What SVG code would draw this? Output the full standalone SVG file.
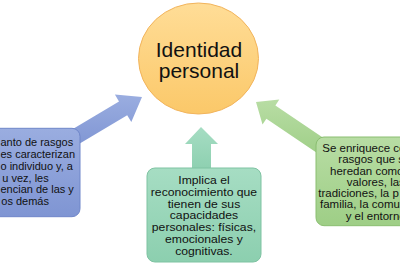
<svg xmlns="http://www.w3.org/2000/svg" width="400" height="267" viewBox="0 0 400 267">
<defs>
<linearGradient id="gOrange" x1="0" y1="0" x2="0" y2="1"><stop offset="0" stop-color="#FFDD97"/><stop offset="1" stop-color="#FBC869"/></linearGradient>
<linearGradient id="gBlue" x1="0" y1="0" x2="0" y2="1"><stop offset="0" stop-color="#9AADE0"/><stop offset="1" stop-color="#7F95D3"/></linearGradient>
<linearGradient id="gMint" x1="0" y1="0" x2="0" y2="1"><stop offset="0" stop-color="#A6DDC3"/><stop offset="1" stop-color="#8CCFAF"/></linearGradient>
<linearGradient id="gGreen" x1="0" y1="0" x2="0" y2="1"><stop offset="0" stop-color="#B8DDA4"/><stop offset="1" stop-color="#9ECE86"/></linearGradient>
</defs>
<style>
.t{font-family:"Liberation Sans",Arial,sans-serif;font-size:10px;fill:#111}
.c{text-anchor:middle}
.big{font-family:"Liberation Sans",Arial,sans-serif;font-size:21px;fill:#111;text-anchor:middle}
</style>
<g id="connectors">
<polygon points="142,97 131.3,122 127.2,115.2 71.4,148.5 63.2,134.7 119,101.4 114.9,94.6" fill="url(#gBlue)"/>
<polygon points="201,127 218,144 211,144 211,172 192,172 192,144 185,144" fill="url(#gMint)"/>
<polygon points="256,102 279.3,99.6 275.4,105.5 333.5,144.7 324.5,158 266.4,118.7 262.5,124.6" fill="url(#gGreen)"/>
</g>
<g id="center">
<ellipse cx="198.5" cy="58.5" rx="60" ry="55.5" fill="url(#gOrange)" stroke="#F2B45C" stroke-width="1"/>
<text class="big" x="199" y="57">Identidad</text>
<text class="big" x="199" y="78">personal</text>
</g>
<g id="left">
<rect x="-40" y="128.3" width="120" height="88.4" rx="8" fill="url(#gBlue)" stroke="#6F86C9" stroke-width="1"/>
<g transform="scale(1.1,1)">
<text class="t" x="0.45" y="146.5">anto de rasgos</text>
<text class="t" x="0.45" y="158.2">es caracterizan</text>
<text class="t" x="0.45" y="169.9">o individuo y, a</text>
<text class="t" x="2.1" y="181.6">u vez, les</text>
<text class="t" x="0.45" y="193.3">encian de las y</text>
<text class="t" x="1.2" y="205">os demás</text>
</g>
</g>
<g id="middle">
<rect x="147" y="168" width="114" height="94" rx="8" fill="url(#gMint)" stroke="#7EC3A2" stroke-width="1"/>
<g transform="scale(1.22,1)">
<text class="t c" x="167.2" y="184">Implica el</text>
<text class="t c" x="167.2" y="195.8">reconocimiento que</text>
<text class="t c" x="167.2" y="207.6">tienen de sus</text>
<text class="t c" x="167.2" y="219.4">capacidades</text>
<text class="t c" x="167.2" y="231.2">personales: físicas,</text>
<text class="t c" x="167.2" y="243">emocionales y</text>
<text class="t c" x="167.2" y="254.8">cognitivas.</text>
</g>
</g>
<g id="right">
<rect x="316" y="137" width="100" height="88.7" rx="8" fill="url(#gGreen)" stroke="#8ABE70" stroke-width="1"/>
<g transform="scale(1.15,1)">
<text class="t" x="280.3" y="152">Se enriquece co</text>
<text class="t" x="294.2" y="163.3">rasgos que s</text>
<text class="t" x="287" y="174.6">heredan como</text>
<text class="t" x="301.5" y="185.9">valores, las</text>
<text class="t" x="276.8" y="197.2">tradiciones, la p</text>
<text class="t" x="278.3" y="208.5">familia, la comu</text>
<text class="t" x="300.6" y="219.8">y el entorno</text>
</g>
</g>
</svg>
